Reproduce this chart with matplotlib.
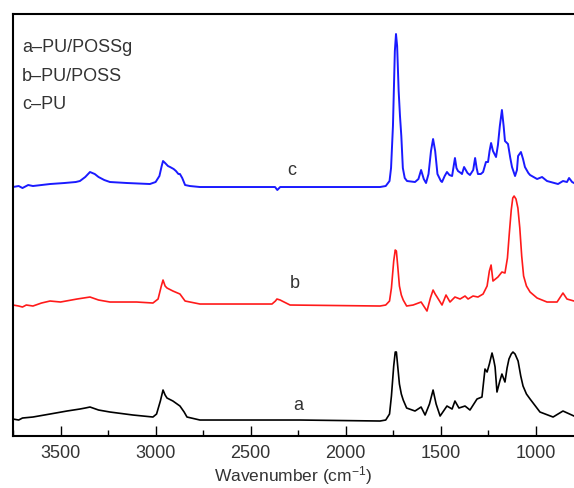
import matplotlib.pyplot as plt
from matplotlib.ticker import MultipleLocator

plt.rcParams['font.family'] = ['Liberation Sans', 'DejaVu Sans']
plt.rcParams['mathtext.default'] = 'regular'

# Spectrum c - PU (blue)
wn_c = [3750, 3720, 3700, 3670, 3645, 3600, 3555, 3480, 3420, 3398, 3370, 3345, 3320,
        3300, 3270, 3240, 3150, 3030, 3000, 2980, 2968, 2961, 2950, 2935, 2924, 2905,
        2893, 2880, 2872, 2860, 2845, 2820, 2767, 2500, 2372, 2360, 2345, 2241, 1820,
        1790, 1770, 1762, 1752, 1742, 1736, 1730, 1722, 1715, 1708, 1700, 1690, 1678,
        1636, 1618, 1604, 1590, 1578, 1565, 1552, 1541, 1530, 1518, 1500, 1494, 1480,
        1468, 1455, 1441, 1426, 1418, 1410, 1395, 1389, 1378, 1360, 1347, 1330, 1320,
        1312, 1305, 1290, 1278, 1263, 1252, 1244, 1236, 1226, 1210, 1200, 1190, 1179,
        1170, 1163, 1147, 1135, 1126, 1110, 1100, 1094, 1079, 1068, 1058, 1040, 1031,
        994, 968, 942, 884, 858, 837, 826, 810, 800]
ab_c = [249, 250, 248, 251, 250, 251, 252, 253, 254, 255, 259, 264, 262,
        259, 256, 254, 253, 252, 254, 260, 270, 275, 273, 270, 269, 267,
        265, 262, 262, 258, 251, 250, 249, 249, 249, 246, 249, 249, 249,
        250, 255, 268, 310, 385, 402, 390, 345, 320, 300, 268, 258, 255,
        254, 257, 266, 257, 253, 262, 285, 297, 285, 262, 255, 254, 260,
        264, 261, 260, 278, 268, 265, 263, 262, 269, 263, 261, 266, 278,
        268, 262, 262, 264, 274, 274, 285, 293, 285, 279, 291, 310, 326,
        310, 295, 292, 278, 269, 260, 266, 280, 284, 277, 269, 263, 261,
        257, 259, 255, 252, 255, 254, 258, 254, 253]

# Spectrum b - PU/POSS (red)
wn_b = [3750, 3720, 3700, 3680, 3645, 3600, 3555, 3500, 3413, 3345, 3300, 3240, 3100,
        3014, 2987, 2970, 2961, 2950, 2940, 2909, 2872, 2845, 2767, 2500, 2388, 2370,
        2362, 2345, 2335, 2293, 1820, 1790, 1770, 1760, 1748, 1740, 1734, 1726, 1718,
        1708, 1698, 1680, 1646, 1604, 1573, 1555, 1541, 1530, 1520, 1494, 1473, 1452,
        1426, 1399, 1373, 1357, 1331, 1305, 1278, 1257, 1245, 1236, 1226, 1200, 1179,
        1163, 1150, 1140, 1130, 1122, 1115, 1105, 1095, 1085, 1075, 1065, 1050, 1031,
        994, 942, 889, 858, 837, 800]
ab_b = [131, 130, 129, 131, 130, 133, 135, 134, 137, 139, 136, 134, 134,
        133, 137, 150, 156, 150, 148, 145, 142, 135, 132, 132, 132, 135,
        137, 136, 135, 131, 130, 131, 135, 148, 175, 186, 185, 168, 150,
        141, 136, 130, 131, 134, 125, 138, 146, 142, 139, 131, 141, 134,
        139, 137, 140, 137, 140, 139, 142, 150, 165, 171, 155, 159, 164,
        163, 178, 203, 226, 238, 240, 237, 228, 208, 180, 160, 150, 144,
        138, 134, 134, 143, 137, 135]

# Spectrum a - PU/POSSg (black)
wn_a = [3750, 3720, 3700, 3645, 3555, 3466, 3398, 3370, 3345, 3300, 3240, 3119, 3014,
        2995, 2975, 2961, 2950, 2940, 2909, 2872, 2850, 2835, 2767, 2241, 1820, 1790,
        1770, 1760, 1748, 1740, 1734, 1726, 1718, 1708, 1698, 1680, 1636, 1604, 1583,
        1560, 1541, 1525, 1504, 1468, 1441, 1426, 1405, 1373, 1347, 1310, 1284, 1268,
        1257, 1245, 1231, 1222, 1215, 1205, 1190, 1179, 1163, 1152, 1142, 1130, 1121,
        1110, 1094, 1080, 1068, 1050, 1031, 979, 910, 858, 800]
ab_a = [17, 16, 18, 19, 22, 25, 27, 28, 29, 26, 24, 21, 19,
        22, 35, 46, 41, 38, 35, 30, 24, 19, 16, 16, 15, 16,
        22, 40, 70, 84, 84, 68, 52, 42, 36, 28, 25, 29, 21,
        32, 46, 32, 20, 30, 27, 35, 28, 30, 26, 37, 39, 67,
        64, 72, 83, 76, 69, 44, 55, 62, 54, 68, 77, 82, 84,
        82, 75, 60, 50, 42, 37, 24, 19, 25, 20]

legend_lines = ['a\u2013PU/POSSg', 'b\u2013PU/POSS', 'c\u2013PU']
tick_values = [3500, 3000, 2500, 2000, 1500, 1000]

fig = plt.figure(figsize=(5.74, 4.89), dpi=100)
ax = fig.add_axes([0.0226, 0.1063, 0.9774, 0.863])

ax.plot(wn_a, ab_a, color='black', lw=1.2)
ax.plot(wn_b, ab_b, color='#ff1a1a', lw=1.2)
ax.plot(wn_c, ab_c, color='#1a1aff', lw=1.4)

ax.set_xlim(3750, 800)
ax.set_ylim(0, 422)
ax.set_xticks(tick_values)
ax.xaxis.set_minor_locator(MultipleLocator(250))
ax.tick_params(axis='x', which='major', direction='in', length=7, width=1, labelsize=13,
               pad=6)
ax.tick_params(axis='x', which='minor', direction='in', length=4, width=1)
ax.tick_params(axis='x', colors='black', labelcolor='#333333')
ax.set_yticks([])
ax.spines['right'].set_visible(False)
for s in ['left', 'top', 'bottom']:
    ax.spines[s].set_linewidth(1.5)

ax.set_xlabel('Wavenumber (cm$^{-1}$)', fontsize=12.5, color='#333333', labelpad=1)

for i, line in enumerate(legend_lines):
    ax.text(0.016, 0.922 - i * 0.0675, line, transform=ax.transAxes, fontsize=13,
            color='#333333', va='center', ha='left')

# curve labels
ax.text(2283, 267, 'c', fontsize=13, color='#333333', ha='center', va='center')
ax.text(2267, 154, 'b', fontsize=13, color='#333333', ha='center', va='center')
ax.text(2251, 32, 'a', fontsize=13, color='#333333', ha='center', va='center')

fig.savefig('out.png', dpi=100)
